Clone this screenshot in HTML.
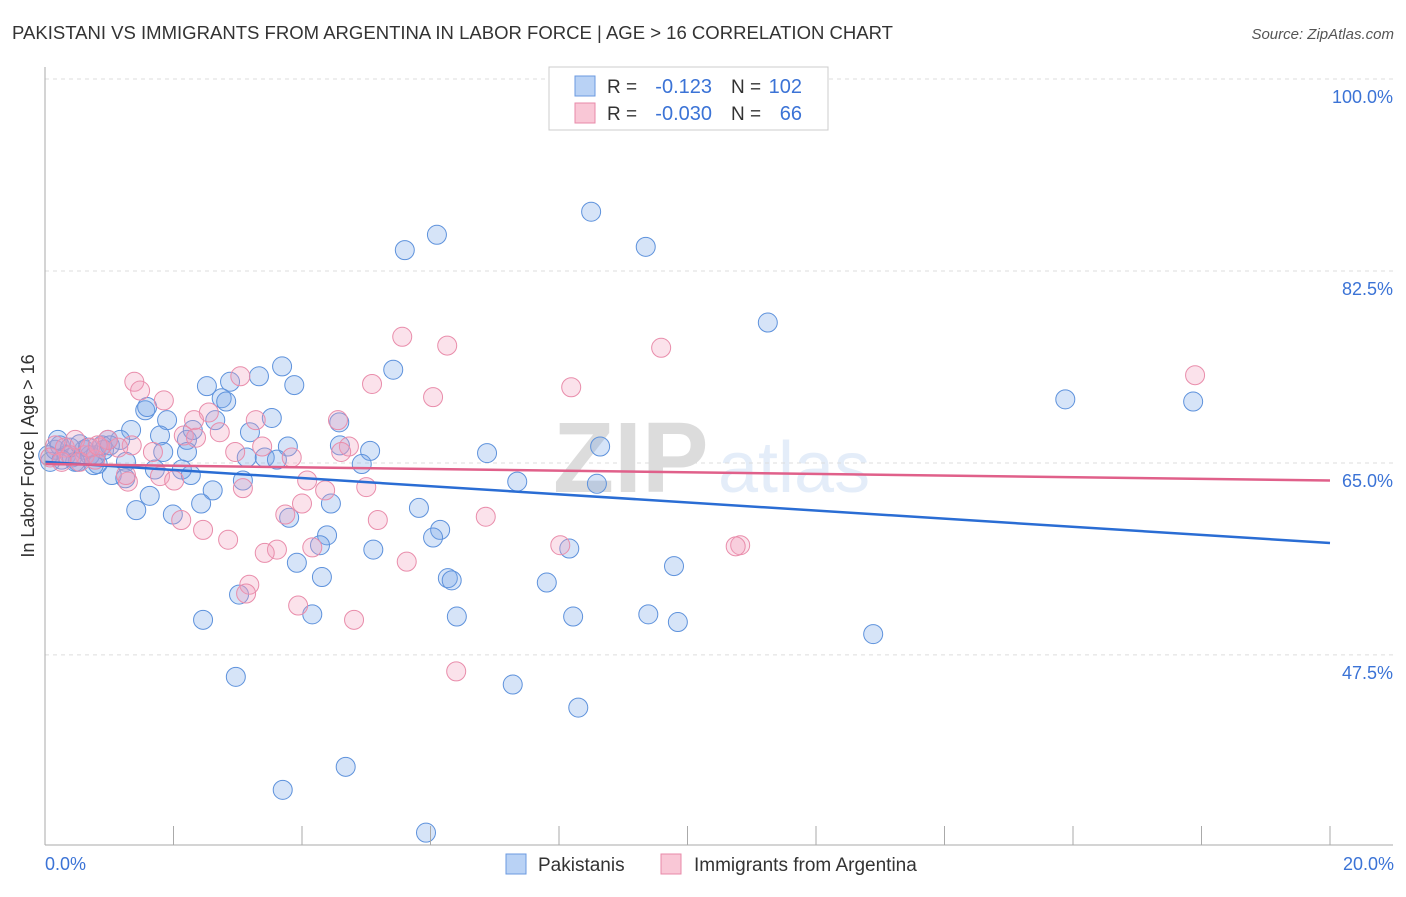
<!DOCTYPE html>
<html><head><meta charset="utf-8"><style>
body{margin:0;background:#fff;font-family:"Liberation Sans",sans-serif}
svg text{font-family:"Liberation Sans",sans-serif}
</style></head><body>
<svg id="chart" width="1406" height="892" xmlns="http://www.w3.org/2000/svg">
<text x="12" y="39" font-size="18" fill="#333" textLength="881" lengthAdjust="spacingAndGlyphs">PAKISTANI VS IMMIGRANTS FROM ARGENTINA IN LABOR FORCE | AGE &gt; 16 CORRELATION CHART</text>
<text x="1394" y="39" font-size="15" fill="#555" text-anchor="end" font-style="italic">Source: ZipAtlas.com</text>
<g opacity="0.18"><text x="553" y="492" font-size="100" fill="#444" font-weight="bold">ZIP</text><text x="718" y="492" font-size="72" fill="#6fa0e0">atlas</text></g>
<g id="grid"></g><g id="marks"></g><g id="axes"></g>
<text transform="translate(34,456) rotate(-90)" font-size="18" fill="#333" text-anchor="middle">In Labor Force | Age &gt; 16</text>
<text x="45" y="870" font-size="18" fill="#3b73d6">0.0%</text>
<text x="1394" y="870" font-size="18" fill="#3b73d6" text-anchor="end">20.0%</text>
<g>
<rect x="549" y="67" width="279" height="63" fill="#fff" stroke="#ccc"/>
<rect x="575" y="76" width="20" height="20" fill="#b9d2f5" stroke="#6b9ae0"/>
<rect x="575" y="103" width="20" height="20" fill="#f9c7d6" stroke="#e88aa8"/>
<text x="607" y="93" font-size="19" fill="#333">R =</text>
<text x="712" y="93" font-size="20" fill="#3b73d6" text-anchor="end">-0.123</text>
<text x="731" y="93" font-size="19" fill="#333">N =</text>
<text x="802" y="93" font-size="20" fill="#3b73d6" text-anchor="end">102</text>
<text x="607" y="120" font-size="19" fill="#333">R =</text>
<text x="712" y="120" font-size="20" fill="#3b73d6" text-anchor="end">-0.030</text>
<text x="731" y="120" font-size="19" fill="#333">N =</text>
<text x="802" y="120" font-size="20" fill="#3b73d6" text-anchor="end">66</text>
</g>
<g>
<rect x="506" y="854" width="20" height="20" fill="#b9d2f5" stroke="#6b9ae0"/>
<text x="538" y="871" font-size="19" fill="#333">Pakistanis</text>
<rect x="661" y="854" width="20" height="20" fill="#f9c7d6" stroke="#e88aa8"/>
<text x="694" y="871" font-size="19" fill="#333">Immigrants from Argentina</text>
</g>
</svg>
<script>
const blueX=[8.50,6.10,5.60,9.35,11.25,3.69,5.42,3.33,3.88,2.52,2.88,2.75,2.82,1.56,1.59,1.90,3.53,15.88,17.87,4.58,2.21,2.65,1.34,1.79,3.19,2.30,1.17,0.98,4.59,5.06,3.78,6.88,8.64,3.14,3.42,3.61,1.84,2.21,1.71,2.13,2.27,4.93,1.26,0.82,1.04,1.25,3.08,7.35,8.59,2.61,1.63,2.43,4.45,1.42,5.82,1.99,3.80,6.15,6.04,4.39,4.28,5.11,8.16,3.92,9.79,4.31,6.27,6.33,7.81,3.02,4.16,2.46,6.41,8.22,9.39,9.85,12.89,2.97,7.28,8.30,4.68,3.70,5.93,0.08,0.16,0.23,0.33,0.42,0.51,0.61,0.70,0.79,0.89,0.05,0.20,0.39,0.54,0.67,0.92,1.01,0.47,0.26,0.76];
const blueY=[87.9,85.8,84.4,84.7,77.8,73.8,73.5,72.9,72.1,72.0,72.4,70.9,70.6,69.8,70.1,68.9,69.1,70.8,70.6,68.7,67.1,68.9,68.0,67.5,67.8,68.0,67.1,67.1,66.6,66.1,66.5,65.9,66.5,65.5,65.5,65.3,66.0,66.0,64.4,64.4,63.9,64.9,65.1,64.9,63.9,63.6,63.4,63.3,63.1,62.5,62.0,61.3,61.3,60.7,60.9,60.3,60.0,58.9,58.2,58.4,57.5,57.1,57.2,55.9,55.6,54.6,54.5,54.3,54.1,53.0,51.2,50.7,51.0,51.0,51.2,50.5,49.4,45.5,44.8,42.7,37.3,35.2,31.3,65.1,66.2,66.6,65.7,65.5,65.1,66.2,65.7,65.7,66.6,65.7,67.1,66.4,66.7,66.4,66.2,66.6,65.1,65.3,64.8];
const pinkX=[17.90,5.56,6.26,9.59,3.04,1.39,1.48,5.09,8.19,6.04,1.85,2.55,2.32,4.56,3.28,2.16,2.35,2.72,4.73,4.61,2.96,3.38,3.84,1.68,1.35,0.86,1.14,4.08,1.79,2.01,1.29,1.26,3.08,4.36,5.00,4.00,3.74,5.18,6.86,2.12,2.46,2.85,4.16,3.61,3.42,8.02,10.82,5.63,3.18,3.13,3.94,4.81,6.40,0.16,0.31,0.47,0.62,0.78,0.98,0.08,0.39,0.26,0.70,0.54,0.82,10.75];
const pinkY=[73.0,76.5,75.7,75.5,72.9,72.4,71.6,72.2,71.9,71.0,70.7,69.6,68.9,68.9,68.9,67.5,67.3,67.8,66.5,66.0,66.0,66.5,65.5,66.0,66.6,66.4,66.4,63.4,63.8,63.4,63.3,63.9,62.7,62.5,62.8,61.3,60.3,59.8,60.1,59.8,58.9,58.0,57.3,57.1,56.8,57.5,57.5,56.0,53.9,53.1,52.0,50.7,46.0,66.6,66.4,67.1,65.7,65.3,67.1,65.5,65.7,65.1,66.4,65.1,66.6,57.4];
const blueTrend=[65.1,57.7];
const pinkTrend=[64.9,63.4];
const yTicks=[100,82.5,65,47.5];
const yTickLabels=["100.0%","82.5%","65.0%","47.5%"];
const xTicks=[1,2,3,4,5,6,7,8,9,10];
const NS="http://www.w3.org/2000/svg";
const X0=45,X1=1330,Y0=79;
function sx(v){return X0+(v/20)*(X1-X0);}
function sy(v){return Y0+(100-v)*10.97;}
function mk(tag,attrs,parent){const e=document.createElementNS(NS,tag);for(const k in attrs)e.setAttribute(k,attrs[k]);parent.appendChild(e);return e;}
const grid=document.getElementById('grid'),marks=document.getElementById('marks'),axes=document.getElementById('axes');
yTicks.forEach((t,i)=>{
 const l=mk('line',{x1:X0,x2:1393,y1:sy(t),y2:sy(t),stroke:'#ddd','stroke-dasharray':'4,4'},grid);
 
 
 const tx=mk('text',{x:1393,y:sy(t)+24,'font-size':18,fill:'#3b73d6','text-anchor':'end'},axes);
 tx.textContent=yTickLabels[i];
 
 
});
const ya=mk('line',{x1:X0,x2:X0,y1:67,y2:845,stroke:'#aaa'},axes);


const xa=mk('line',{x1:X0,x2:1393,y1:845,y2:845,stroke:'#aaa'},axes);


xTicks.forEach(t=>{
 const l=mk('line',{x1:sx(t*2),x2:sx(t*2),y1:826,y2:845,stroke:'#aaa'},axes);
 
 
});
function dots(xs,ys,fill,stroke,name){
 xs.forEach((x,i)=>{
  const c=mk('circle',{cx:sx(x),cy:sy(ys[i]),r:9.5,fill:fill,stroke:stroke,'stroke-width':1},marks);
  
  
 });
}
dots(blueX,blueY,'rgba(120,165,232,0.3)','#5e92dc','pakistani-point');
dots(pinkX,pinkY,'rgba(242,160,188,0.3)','#e98dab','argentina-point');
const bt=mk('line',{x1:sx(0),x2:sx(20),y1:sy(blueTrend[0]),y2:sy(blueTrend[1]),stroke:'#2a6dd4','stroke-width':2.5},marks);


const pt=mk('line',{x1:sx(0),x2:sx(20),y1:sy(pinkTrend[0]),y2:sy(pinkTrend[1]),stroke:'#e0608a','stroke-width':2.5},marks);


</script>
</body></html>
